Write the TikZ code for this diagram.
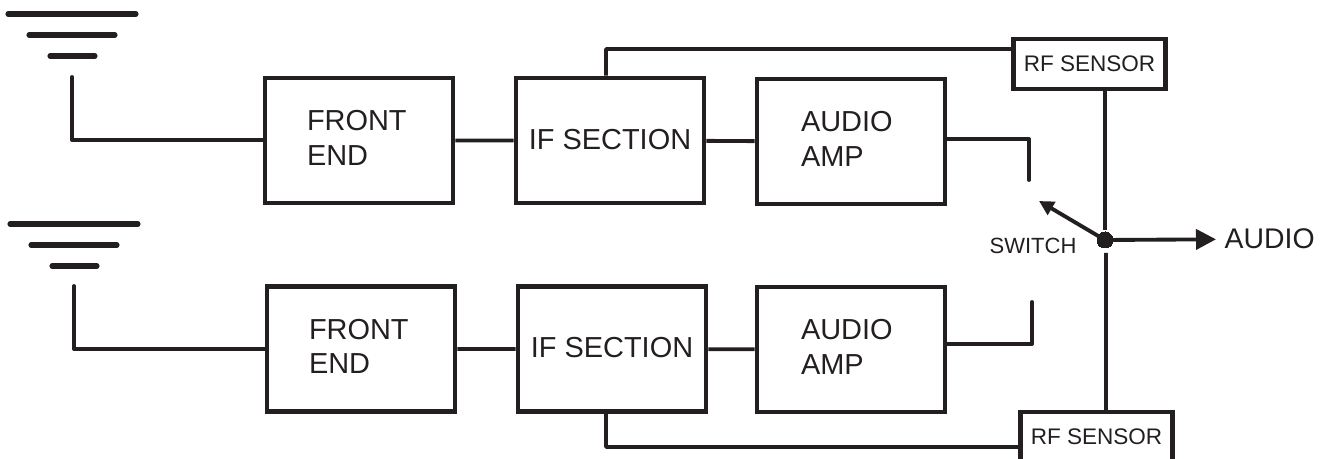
\documentclass[tikz,border=0pt]{standalone}
\usepackage{fontspec}
\setmainfont{Liberation Sans}
\usetikzlibrary{arrows.meta}
\definecolor{ink}{HTML}{231F20}
\begin{document}
\begin{tikzpicture}[x=0.75pt,y=-0.75pt,color=ink]
\tikzstyle{block}=[draw,line width=3.7pt,minimum width=141pt,minimum height=93.75pt,inner ysep=0pt,font=\fontsize{21.7}{26}\selectfont,align=left];
\tikzstyle{frontbox}=[block,text width=78pt,inner xsep=31.5pt,text depth=30pt];
\tikzstyle{ampbox}=[block,text width=75pt,inner xsep=33pt,text depth=30pt];
\tikzstyle{ifbox}=[block,align=center,inner xsep=0pt,text depth=2pt];
\tikzstyle{sensor}=[draw,line width=3.2pt,minimum width=114pt,minimum height=37.5pt,inner sep=0pt,font=\fontsize{16.9}{20}\selectfont];
\tikzstyle{wire}=[line width=2.9pt,line join=round];
\tikzstyle{ant}=[line width=3.8pt,line cap=round];
\tikzstyle{tip}=[wire,shorten >=3pt,-{Triangle[length=15pt,width=15pt]}];
\tikzstyle{armtip}=[wire,-{Triangle[length=11pt,width=11pt]}];
\useasboundingbox (0,0) rectangle (1324,459);
\node[frontbox] (fe1) at (359,140.5) {FRONT\\END};
\node[ifbox] (if1) at (610,140.5) {IF SECTION};
\node[ampbox] (amp1) at (851,141.5) {AUDIO\\AMP};
\node[frontbox] (fe2) at (361,349) {FRONT\\END};
\node[ifbox] (if2) at (612,349) {IF SECTION};
\node[ampbox] (amp2) at (851,349.5) {AUDIO\\AMP};
\node[sensor] (rf1) at (1089.5,64) {RF SENSOR};
\node[sensor] (rf2) at (1096.5,437) {RF SENSOR};
\node[draw,circle,minimum size=12pt,inner sep=0pt,line width=0pt,fill=ink] (dot) at (1105,240) {};
\node[font=\fontsize{16.5}{20}\selectfont] (sw) at (1033,246) {SWITCH};
\node[font=\fontsize{21.3}{26}\selectfont,anchor=west] (out) at (1220,239) {AUDIO};
\coordinate (a1a) at (8,14); \coordinate (a1b) at (136,14);
\coordinate (a1c) at (29,35); \coordinate (a1d) at (115,35);
\coordinate (a1e) at (50,56); \coordinate (a1f) at (95,56);
\coordinate (a2a) at (10,224); \coordinate (a2b) at (138,224);
\coordinate (a2c) at (31,245); \coordinate (a2d) at (117,245);
\coordinate (a2e) at (52,266); \coordinate (a2f) at (97,266);
\coordinate (s1) at (72,77); \coordinate (c1) at (72,140);
\coordinate (s2) at (74,286); \coordinate (c2) at (74,349);
\coordinate (p1) at (1029,139); \coordinate (q1) at (1029,180);
\coordinate (p2) at (1032,344); \coordinate (q2) at (1032,302);
\coordinate (t1) at (606,49); \coordinate (t2) at (606,447);
\coordinate (arm) at (1039,201);
\coordinate (d1) at (1105,230); \coordinate (d2) at (1106,253);
\draw[ant]
(a1a) -- (a1b) (a1c) -- (a1d) (a1e) -- (a1f)
(a2a) -- (a2b) (a2c) -- (a2d) (a2e) -- (a2f)
;
\draw[wire,line cap=round]
(s1) -- (c1) -- (c1-|fe1.west)
(s2) -- (c2) -- (c2-|fe2.west)
(p1-|amp1.east) -- (p1) -- (q1)
(p2-|amp2.east) -- (p2) -- (q2)
;
\draw[wire]
(fe1) -- (if1) (if1) -- (amp1)
(fe2) -- (if2) (if2) -- (amp2)
(if1.north-|t1) -- (t1) -- (t1-|rf1.west)
(if2.south-|t2) -- (t2) -- (t2-|rf2.west)
(rf1.south-|d1) -- (d1)
(d2) -- (rf2.north-|d2)
;
\draw[armtip] (dot) -- (arm);
\draw[tip] (dot) -- (out);
\end{tikzpicture}
\end{document}
